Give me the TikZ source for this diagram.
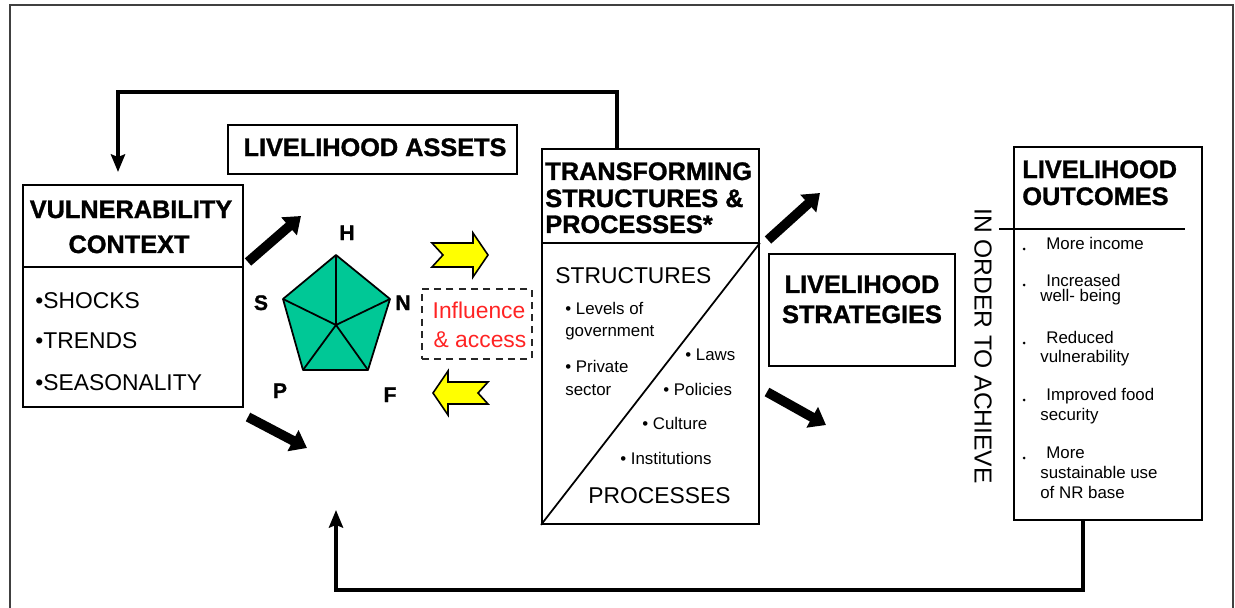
\documentclass[tikz,border=0pt]{standalone}
\usepackage{fontspec}
\setmainfont{Liberation Sans}
\newfontface\heavy{Liberation Sans Bold}[FakeBold=1.2]
\usetikzlibrary{arrows.meta}
\definecolor{penta}{RGB}{0,200,150}
\definecolor{yel}{RGB}{255,255,0}
\definecolor{infred}{RGB}{255,35,35}
\begin{document}
\begin{tikzpicture}[x=0.02cm,y=-0.02cm,
  frame/.style={line width=1.5pt, draw=black!75},
  box/.style={draw, line width=1.1pt, inner sep=0pt, anchor=north west},
  dbox/.style={draw=black!85, line width=0.9pt, dash pattern=on 4pt off 3pt, inner sep=0pt, anchor=north west},
  div/.style={line width=1pt},
  ttl/.style={font=\fontsize{14.4}{15}\heavy, inner sep=0pt},
  big/.style={font=\fontsize{13}{14}\selectfont, inner sep=0pt},
  sm/.style={font=\fontsize{9.6}{11}\selectfont, inner sep=0pt},
  lbl/.style={font=\fontsize{12}{13}\heavy, inner sep=0pt},
  fb/.style={line width=2.1pt, -{Stealth[length=10pt,width=8pt,inset=1.5pt]}},
  blk/.style={line width=5.5pt, -{Triangle[length=9pt,width=13pt]}},
  yarrow/.style={draw, line width=0.9pt, fill=yel, line join=miter}
]
\useasboundingbox (0,0) rectangle (1235,608);
\draw[frame] (10,612) -- (10,5) -- (1233,5) -- (1233,612);

% boxes
\node[box, minimum width=4.4cm, minimum height=4.44cm] (vuln) at (22,184) {};
\node[box, minimum width=5.78cm, minimum height=0.98cm] (assets) at (227,124) {};
\node[box, minimum width=4.34cm, minimum height=7.5cm] (trans) at (541,148) {};
\node[box, minimum width=3.72cm, minimum height=2.24cm] (strat) at (768,253) {};
\node[box, minimum width=3.76cm, minimum height=7.46cm] (outc) at (1013,146) {};
\node[dbox, minimum width=2.2cm, minimum height=1.4cm] (infl) at (421,288) {};

% dividers
\coordinate (vd) at (0,267);
\draw[div] (vuln.west |- vd) -- (vuln.east |- vd);
\coordinate (td) at (0,243);
\draw[div] (trans.west |- td) -- (trans.east |- td);
\draw[div] (trans.south west) -- (trans.east |- td);
\coordinate (odl) at (999,229);
\coordinate (odr) at (1185,229);
\draw[div] (odl) -- (odr);

% feedback loops
\coordinate (tx) at (617,0);
\coordinate (fbtl) at (118,92);
\draw[fb, shorten >=0.24cm] (trans.north -| tx) |- (fbtl) -- (fbtl |- vuln.north);
\coordinate (bx) at (1083,0);
\coordinate (bby) at (0,590);
\coordinate (bend) at (336,510);
\draw[fb] (outc.south -| bx) -- (bx |- bby) -| (bend);

% thick black arrows
\coordinate (a1s) at (248,262); \coordinate (a1e) at (301,216);
\coordinate (a2s) at (248,417); \coordinate (a2e) at (307,448);
\coordinate (a3s) at (768,240); \coordinate (a3e) at (820,193);
\coordinate (a4s) at (767,392); \coordinate (a4e) at (826,425);
\draw[blk] (a1s) -- (a1e);
\draw[blk] (a2s) -- (a2e);
\draw[blk] (a3s) -- (a3e);
\draw[blk] (a4s) -- (a4e);

% pentagon
\coordinate (pH) at (336,255);
\coordinate (pN) at (390,299);
\coordinate (pF) at (368,370);
\coordinate (pP) at (303,370);
\coordinate (pS) at (283,299);
\coordinate (pC) at (336,325);
\draw[line width=1pt, fill=penta, line join=round] (pH) -- (pN) -- (pF) -- (pP) -- (pS) -- cycle;
\draw[line width=1pt] (pC) -- (pH) (pC) -- (pN) (pC) -- (pF) (pC) -- (pP) (pC) -- (pS);
\node[lbl, anchor=base] (lH) at (347,240) {H};
\node[lbl, anchor=base] (lS) at (261,310) {S};
\node[lbl, anchor=base] (lN) at (403,310) {N};
\node[lbl, anchor=base] (lP) at (280,398) {P};
\node[lbl, anchor=base] (lF) at (390,402) {F};

% yellow arrows
\draw[yarrow, shift={(460,255)}] (-28,-12) -- (13,-12) -- (13,-22) -- (28,0) -- (13,22) -- (13,12) -- (-28,12) -- (-17,0) -- cycle;
\draw[yarrow, shift={(460,393)}] (28,-11) -- (-12,-11) -- (-12,-22) -- (-27,0) -- (-12,22) -- (-12,11) -- (28,11) -- (18,0) -- cycle;

% texts: vulnerability
\node[ttl, anchor=base] (vt1) at (131,218) {VULNERABILITY};
\node[ttl, anchor=base] (vt2) at (129,253) {CONTEXT};
\node[big, anchor=base west] (v1) at (35,308) {•SHOCKS};
\node[big, anchor=base west] (v2) at (35,348) {•TRENDS};
\node[big, anchor=base west] (v3) at (35,390) {•SEASONALITY};

% assets
\node[ttl, anchor=base] (at) at (375,156) {LIVELIHOOD ASSETS};

% influence
\node[big, anchor=base, text=infred] (i1) at (479,318) {Influence};
\node[big, anchor=base, text=infred] (i2) at (480,347) {\& access};

% transforming
\node[ttl, anchor=base west] (tt1) at (545,180) {TRANSFORMING};
\node[ttl, anchor=base west] (tt2) at (545,207) {STRUCTURES \&};
\node[ttl, anchor=base west] (tt3) at (545,233) {PROCESSES*};
\node[big, anchor=base west] (ts) at (555,283) {STRUCTURES};
\node[sm, anchor=base west] (s1) at (565,315) {• Levels of};
\node[sm, anchor=base west] (s1b) at (565,337) {government};
\node[sm, anchor=base west] (s2) at (565,372) {• Private};
\node[sm, anchor=base west] (s2b) at (565,395) {sector};
\node[sm, anchor=base west] (p1) at (685,360) {• Laws};
\node[sm, anchor=base west] (p2) at (663,395) {• Policies};
\node[sm, anchor=base west] (p3) at (642,429) {• Culture};
\node[sm, anchor=base west] (p4) at (620,464) {• Institutions};
\node[big, anchor=base west] (tp) at (588,503) {PROCESSES};

% strategies
\node[ttl, anchor=base] (st1) at (862,293) {LIVELIHOOD};
\node[ttl, anchor=base] (st2) at (862,323) {STRATEGIES};

% in order to achieve
\node[font=\fontsize{14}{15}\selectfont, inner sep=0pt, rotate=-90] (ord) at (983,346) {IN ORDER TO ACHIEVE};

% outcomes
\node[ttl, anchor=base west] (ot1) at (1022,178) {LIVELIHOOD};
\node[ttl, anchor=base west] (ot2) at (1022,205) {OUTCOMES};
\foreach \yy/\nm in {249/d1,285/d2,343/d3,400/d4,458/d5}
  \fill (1024,\yy) circle (1.5) coordinate (\nm);
\node[sm, anchor=base west] (o1) at (1046,250) {More income};
\node[sm, anchor=base west] (o2) at (1046,286) {Increased};
\node[sm, anchor=base west] (o2b) at (1040,301) {well- being};
\node[sm, anchor=base west] (o3) at (1046,343) {Reduced};
\node[sm, anchor=base west] (o3b) at (1040,362) {vulnerability};
\node[sm, anchor=base west] (o4) at (1046,400) {Improved food};
\node[sm, anchor=base west] (o4b) at (1040,420) {security};
\node[sm, anchor=base west] (o5) at (1046,458) {More};
\node[sm, anchor=base west] (o5b) at (1040,478) {sustainable use};
\node[sm, anchor=base west] (o5c) at (1040,498) {of NR base};
\end{tikzpicture}
\end{document}
